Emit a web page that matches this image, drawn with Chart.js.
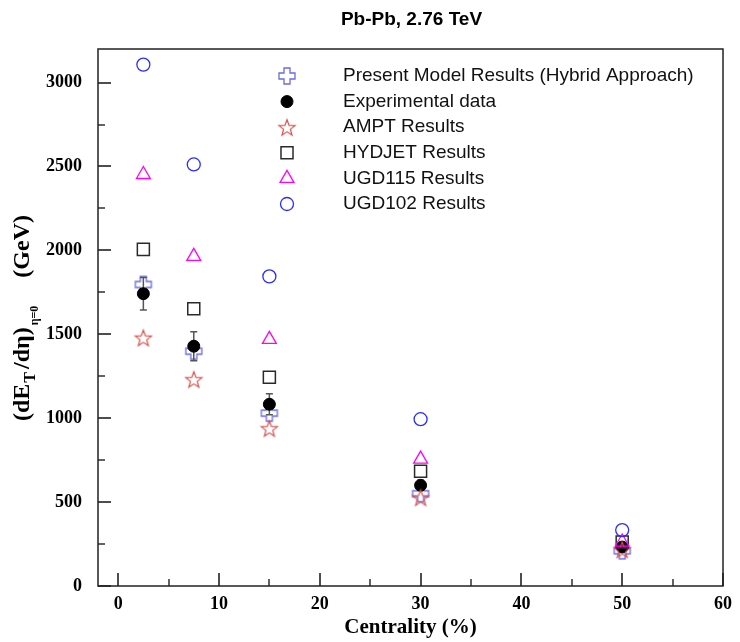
<!DOCTYPE html>
<html>
<head>
<meta charset="utf-8">
<script src="https://cdn.jsdelivr.net/npm/chart.js@4.4.0/dist/chart.umd.min.js"></script>
<style>
  body { margin: 0; background: #fff; }
  #wrap { width: 740px; height: 642px; }
</style>
</head>
<body>
<div id="wrap"><canvas id="etChart" width="740" height="642"></canvas></div>
<script>
// --- DATA ---
const centrality = [2.5, 7.5, 15, 30, 50];
const hybrid = [1797, 1399, 1030, 550, 210];
const experimental = [1742, 1429, 1083, 600, 232];
const expError = [97, 86, 62, 30, 15];
const ampt = [1480, 1232, 940, 528, 218];
const hydjet = [2006, 1652, 1244, 684, 262];
const ugd115 = [2452, 1964, 1470, 756, 262];
const ugd102 = [3107, 2512, 1845, 994, 333];

const xTicks = [0, 10, 20, 30, 40, 50, 60];
const yTicks = [0, 500, 1000, 1500, 2000, 2500, 3000];

const SERIF = '"Liberation Serif", "Times New Roman", serif';
const SANS = '"Liberation Sans", Arial, sans-serif';

// --- MARKERS ---
const makeCross = (color) => {
    const c = document.createElement('canvas');
    c.width = c.height = 20;
    const g = c.getContext('2d');
    const o = 10, a = 3, b = 8;
    g.strokeStyle = color;
    g.lineWidth = 1.3;
    g.beginPath();
    g.moveTo(o - a, o - b); g.lineTo(o + a, o - b); g.lineTo(o + a, o - a);
    g.lineTo(o + b, o - a); g.lineTo(o + b, o + a); g.lineTo(o + a, o + a);
    g.lineTo(o + a, o + b); g.lineTo(o - a, o + b); g.lineTo(o - a, o + a);
    g.lineTo(o - b, o + a); g.lineTo(o - b, o - a); g.lineTo(o - a, o - a);
    g.closePath();
    g.stroke();
    return c;
};

const makeStar = (color) => {
    const c = document.createElement('canvas');
    c.width = c.height = 20;
    const g = c.getContext('2d');
    const o = 10, R = 8.5, r = 3.6;
    g.strokeStyle = color;
    g.lineWidth = 1.2;
    g.beginPath();
    for (let i = 0; i < 10; i++) {
        const ang = -Math.PI / 2 + i * Math.PI / 5;
        const rad = i % 2 === 0 ? R : r;
        const px = o + Math.cos(ang) * rad, py = o + 1 + Math.sin(ang) * rad;
        if (i === 0) g.moveTo(px, py); else g.lineTo(px, py);
    }
    g.closePath();
    g.stroke();
    return c;
};

const crossImg = makeCross('#6a6ae8');
const starImg = makeStar('#d9514c');

const toPoints = (ys) => centrality.map((x, i) => ({ x: x, y: ys[i] }));

const series = [
    { label: 'Present Model Results (Hybrid Approach)', data: hybrid, pointStyle: crossImg, radius: 8, border: '#6a6ae8', fill: 'rgba(0,0,0,0)', width: 1.3, order: 6 },
    { label: 'Experimental data', data: experimental, pointStyle: 'circle', radius: 6, border: '#000', fill: '#000', width: 1, order: 5 },
    { label: 'AMPT Results', data: ampt, pointStyle: starImg, radius: 8, border: '#d9514c', fill: 'rgba(0,0,0,0)', width: 1.2, order: 4 },
    { label: 'HYDJET Results', data: hydjet, pointStyle: 'rect', radius: 8.5, border: '#2a2a2a', fill: 'rgba(0,0,0,0)', width: 1.5, order: 3 },
    { label: 'UGD115 Results', data: ugd115, pointStyle: 'triangle', radius: 8, border: '#ff00ff', fill: 'rgba(0,0,0,0)', width: 1.3, order: 2 },
    { label: 'UGD102 Results', data: ugd102, pointStyle: 'circle', radius: 6.5, border: '#2b2bff', fill: 'rgba(0,0,0,0)', width: 1.3, order: 1 }
];

// --- PLUGINS ---
const errorBars = {
    id: 'errorBars',
    afterDatasetDraw(chart, args) {
        // drawn right after the hybrid markers so the dot sits on top
        if (args.index !== 0) return;
        const { ctx, scales: { x, y } } = chart;
        ctx.save();
        ctx.strokeStyle = '#555';
        ctx.lineWidth = 1.5;
        centrality.forEach((c, i) => {
            const px = x.getPixelForValue(c);
            const top = y.getPixelForValue(experimental[i] + expError[i]);
            const bot = y.getPixelForValue(experimental[i] - expError[i]);
            ctx.beginPath();
            ctx.moveTo(px, top); ctx.lineTo(px, bot);
            ctx.moveTo(px - 3.5, top); ctx.lineTo(px + 3.5, top);
            ctx.moveTo(px - 3.5, bot); ctx.lineTo(px + 3.5, bot);
            ctx.stroke();
        });
        ctx.restore();
    }
};

const frameAndText = {
    id: 'frameAndText',
    afterDraw(chart) {
        const { ctx, chartArea: a, scales: { x, y } } = chart;
        ctx.save();

        // frame
        ctx.strokeStyle = '#222';
        ctx.lineWidth = 1.5;
        ctx.strokeRect(a.left, a.top, a.right - a.left, a.bottom - a.top);

        // inward ticks, major + minor
        ctx.fillStyle = '#222';
        yTicks.forEach((v, i) => {
            const py = Math.round(y.getPixelForValue(v));
            ctx.fillRect(a.left, py - 0.8, 13, 1.6);
            if (i < yTicks.length - 1) {
                const pm = Math.round(y.getPixelForValue((v + yTicks[i + 1]) / 2));
                ctx.fillRect(a.left, pm - 0.7, 7, 1.4);
            }
        });
        xTicks.forEach((v, i) => {
            const px = Math.round(x.getPixelForValue(v));
            ctx.fillRect(px - 0.8, a.bottom - 13, 1.6, 13);
            if (i < xTicks.length - 1) {
                const pm = Math.round(x.getPixelForValue((v + xTicks[i + 1]) / 2));
                ctx.fillRect(pm - 0.7, a.bottom - 7, 1.4, 7);
            }
        });

        // title
        ctx.fillStyle = '#000';
        ctx.textAlign = 'center';
        ctx.textBaseline = 'middle';
        ctx.font = 'bold 19px ' + SANS;
        ctx.fillText('Pb-Pb, 2.76 TeV', (a.left + a.right) / 2 + 1, 20);

        // x title
        ctx.font = 'bold 21px ' + SERIF;
        ctx.fillText('Centrality (%)', (a.left + a.right) / 2, 628);

        // y title with subscripts
        const parts = [
            { t: '(dE', f: 'bold 24px ' + SERIF, dy: 0, gap: 1 },
            { t: 'T', f: 'bold 16px ' + SERIF, dy: 6, gap: 3 },
            { t: '/d\u03b7)', f: 'bold 24px ' + SERIF, dy: 0, gap: 2 },
            { t: '\u03b7=0', f: 'bold 12px ' + SERIF, dy: 9, gap: 28 },
            { t: '(GeV)', f: 'bold 24px ' + SERIF, dy: 0, gap: 0 }
        ];
        let total = 0;
        parts.forEach(p => { ctx.font = p.f; p.w = ctx.measureText(p.t).width; total += p.w + p.gap; });
        ctx.translate(29, 318);
        ctx.rotate(-Math.PI / 2);
        ctx.textAlign = 'left';
        ctx.textBaseline = 'alphabetic';
        let cx = -total / 2;
        parts.forEach(p => { ctx.font = p.f; ctx.fillText(p.t, cx, p.dy); cx += p.w + p.gap; });
        ctx.restore();

        // legend
        ctx.save();
        series.forEach((s, i) => {
            const ly = 76 + i * 25.6;
            ctx.strokeStyle = s.border;
            ctx.fillStyle = s.fill;
            ctx.lineWidth = s.width;
            Chart.helpers.drawPoint(ctx, { pointStyle: s.pointStyle, radius: s.radius, rotation: 0, borderWidth: s.width }, 287, ly);
            ctx.fillStyle = '#111';
            ctx.font = '19px ' + SANS;
            ctx.textAlign = 'left';
            ctx.textBaseline = 'middle';
            ctx.fillText(s.label, 343, ly);
        });
        ctx.restore();
    }
};

// --- CHART ---
const tickFont = { family: SERIF, size: 18, weight: 'bold' };

new Chart(document.getElementById('etChart'), {
    type: 'scatter',
    data: {
        datasets: series.map(s => ({
            label: s.label,
            data: toPoints(s.data),
            pointStyle: s.pointStyle,
            pointRadius: s.radius,
            pointHoverRadius: s.radius,
            borderColor: s.border,
            backgroundColor: s.fill,
            pointBorderWidth: s.width,
            order: s.order
        }))
    },
    options: {
        responsive: false,
        animation: false,
        layout: { padding: { top: 49, right: 15, left: 0, bottom: 0 } },
        plugins: { legend: { display: false }, tooltip: { enabled: false }, title: { display: false } },
        scales: {
            x: {
                type: 'linear', min: -2, max: 60,
                afterBuildTicks: (s) => { s.ticks = xTicks.map(v => ({ value: v })); },
                afterFit: (s) => { s.height = 56; },
                grid: { display: false, drawTicks: false },
                border: { display: false },
                ticks: { font: tickFont, color: '#000', padding: 8, maxRotation: 0, autoSkip: false, callback: (v) => String(v) }
            },
            y: {
                type: 'linear', min: 0, max: 3200,
                afterBuildTicks: (s) => { s.ticks = yTicks.map(v => ({ value: v })); },
                afterFit: (s) => { s.width = 98; },
                grid: { display: false, drawTicks: false },
                border: { display: false },
                ticks: { font: tickFont, color: '#000', padding: 16, autoSkip: false, callback: (v) => String(v) }
            }
        }
    },
    plugins: [errorBars, frameAndText]
});
</script>
</body>
</html>
